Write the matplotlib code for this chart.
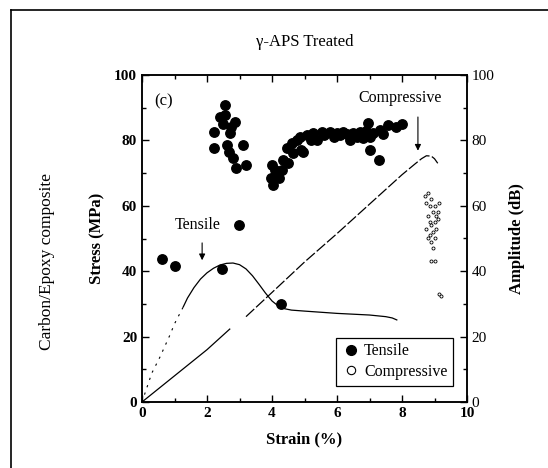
import matplotlib
matplotlib.use("Agg")
import matplotlib.pyplot as plt
from matplotlib.lines import Line2D
from matplotlib.ticker import MultipleLocator

# tensile stress-strain curve (first part faint/dotted in the scan)
ten_strain_start = [0.0, 0.3, 0.55, 0.86, 1.0, 1.27]
ten_stress_start = [0.0, 8.8, 13.7, 20.5, 23.9, 29.1]
ten_strain = [1.27, 1.4, 1.6, 1.8, 2.0, 2.2, 2.4, 2.6, 2.8, 3.0, 3.2, 3.4, 3.6, 3.8,
              4.0, 4.2, 4.4, 4.6, 5.0, 6.0, 7.0, 7.5, 7.7, 7.84]
ten_stress = [29.1, 31.8, 35.0, 37.6, 39.5, 40.9, 41.9, 42.4, 42.5, 42.0, 40.7, 38.6, 36.0, 33.3,
              30.9, 29.3, 28.5, 28.1, 27.8, 27.1, 26.6, 26.1, 25.7, 25.1]

# compressive stress-strain curve
comp_strain_lo = [0.0, 2.0, 2.7]
comp_stress_lo = [0.0, 16.0, 22.3]
comp_strain_hi = [3.2, 4.0, 5.0, 6.0, 7.0, 8.0, 8.4, 8.6, 8.75, 8.9, 9.0, 9.1]
comp_stress_hi = [26.1, 33.5, 42.8, 51.5, 60.5, 69.5, 72.8, 74.4, 75.3, 75.2, 74.4, 73.0]

# AE amplitude, tensile hits
ae_ten_strain = [0.62, 1.02, 2.46, 2.98, 4.28,
                 2.22, 2.22, 2.55, 2.55, 2.48, 2.86, 2.71, 2.63, 3.12, 2.69, 2.81, 2.88, 3.2, 2.4, 2.74,
                 3.99, 3.96, 4.02, 4.14, 4.2, 4.09, 4.35, 4.45, 4.66, 4.6, 4.76, 4.96, 4.86, 5.07,
                 5.37, 5.27, 5.53, 5.78, 5.99, 6.19, 6.4, 6.5, 6.71, 6.81, 6.96, 7.02, 7.3, 7.12,
                 7.32, 7.58, 8.0, 4.3, 4.5, 4.9, 5.2, 5.6, 5.9, 6.1, 6.3, 6.6, 7.0, 7.4, 6.9, 7.8]
ae_ten_amp = [43.7, 41.6, 40.7, 54.1, 30.0,
              82.7, 77.6, 90.8, 87.8, 84.9, 85.7, 82.2, 78.6, 78.6, 76.5, 74.5, 71.5, 72.5, 87.2, 84.0,
              72.5, 68.4, 66.4, 69.4, 68.4, 70.9, 74.0, 77.6, 76.0, 79.1, 80.1, 76.5, 81.1, 81.6,
              80.1, 82.2, 82.7, 82.7, 82.2, 82.7, 80.1, 82.2, 82.7, 80.6, 85.2, 77.1, 74.0, 82.2,
              83.2, 84.7, 85.0, 71.0, 73.0, 77.0, 80.0, 81.5, 81.0, 81.5, 82.0, 81.0, 81.0, 82.0, 83.0, 84.0]

# AE amplitude, compressive hits
ae_comp_strain = [8.7, 8.75, 8.8, 8.85, 8.9, 8.95, 9.0, 9.05, 8.8, 8.85, 8.9, 9.0, 9.1, 8.75,
                  8.85, 8.95, 9.05, 8.8, 8.9, 9.0, 8.95, 8.9, 9.0, 9.15, 9.2, 9.1, 9.15]
ae_comp_amp = [63, 61, 64, 60, 62, 58, 60, 57, 57, 55, 54, 55, 56, 53,
               51, 52, 53, 50, 49, 50, 47, 43, 43, 33, 32.5, 58, 61]

SERIF = "Liberation Serif"
plt.rcParams.update({"font.family": SERIF, "font.size": 11})

fig = plt.figure(figsize=(5.48, 4.68), dpi=100)
ax = fig.add_axes([142 / 548, 1 - 402 / 468, 325 / 548, 327 / 468])
ax2 = ax.twinx()

# curves
ax.plot(ten_strain_start, ten_stress_start, color="black", lw=0.8, ls=(0, (2, 5)))
ax.plot(ten_strain, ten_stress, color="black", lw=0.9)
ax.plot(comp_strain_lo, comp_stress_lo, color="black", lw=0.9)
ax.plot(comp_strain_hi, comp_stress_hi, color="black", lw=0.9, ls=(0, (9, 2)))

# AE points
ax2.plot(ae_ten_strain, ae_ten_amp, "o", color="black", ms=6.8, zorder=4)
ax2.plot(ae_comp_strain, ae_comp_amp, "o", mfc="white", mec="black", mew=0.6, ms=2.2)

for a in (ax, ax2):
    a.set_xlim(0, 10)
    a.set_ylim(0, 100)
    for s in a.spines.values():
        s.set_linewidth(1.1)

ax.xaxis.set_major_locator(MultipleLocator(2))
ax.xaxis.set_minor_locator(MultipleLocator(1))
ax.yaxis.set_major_locator(MultipleLocator(20))
ax.yaxis.set_minor_locator(MultipleLocator(10))
ax2.yaxis.set_major_locator(MultipleLocator(20))
ax2.yaxis.set_minor_locator(MultipleLocator(10))
ax.tick_params(which="both", direction="in", top=True, right=False)
ax.tick_params(which="major", length=5, width=1)
ax.tick_params(which="minor", length=3, width=1)
ax2.tick_params(which="both", direction="in")
ax2.tick_params(which="major", length=5, width=1, labelsize=11)
ax2.tick_params(which="minor", length=3, width=1)
for lab in ax.get_xticklabels() + ax.get_yticklabels():
    lab.set_fontweight("bold")
    lab.set_fontsize(11)

ax.set_xlabel("Strain (%)", fontsize=12, fontweight="bold", labelpad=8)
ax.set_ylabel("Stress (MPa)", fontsize=12, fontweight="bold", labelpad=6)
ax2.set_ylabel("Amplitude (dB)", fontsize=12, fontweight="bold", labelpad=10)

# annotations
ax.text(0.65, 92, "(c)", fontsize=12, ha="center", va="center")
ax.text(7.95, 93, "Compressive", fontsize=11.5, ha="center", va="center")
ax.annotate("", xy=(8.49, 76), xytext=(8.49, 88),
            arrowprops=dict(arrowstyle="-|>", color="black", lw=0.8, mutation_scale=9))
ax.text(1.72, 54, "Tensile", fontsize=11.5, ha="center", va="center")
ax.annotate("", xy=(1.85, 42.5), xytext=(1.85, 49.5),
            arrowprops=dict(arrowstyle="-|>", color="black", lw=0.8, mutation_scale=9))

handles = [
    Line2D([], [], marker="o", ls="none", color="black", ms=7, label="Tensile"),
    Line2D([], [], marker="o", ls="none", mfc="white", mec="black", mew=0.8, ms=6, label="Compressive"),
]
leg = ax2.legend(handles=handles, loc="lower right", bbox_to_anchor=(0.957, 0.05),
                 fancybox=False, framealpha=1, edgecolor="black", fontsize=11.5,
                 handletextpad=0.2, borderpad=0.35, labelspacing=0.3, handlelength=1.2,
                 borderaxespad=0)
leg.get_frame().set_linewidth(0.9)

fig.text(305 / 548, 1 - 42 / 468, "γ-APS Treated", ha="center", va="center", fontsize=12)
fig.text(47 / 548, 1 - 262 / 468, "Carbon/Epoxy composite", ha="center", va="center",
         rotation=90, fontsize=12.5)

# page frame
fig.add_artist(Line2D([11 / 548, 1.0], [1 - 10 / 468, 1 - 10 / 468], color="black", lw=1.2))
fig.add_artist(Line2D([11 / 548, 11 / 548], [0.0, 1 - 10 / 468], color="black", lw=1.2))

fig.savefig("out.png", dpi=100, facecolor="white")
